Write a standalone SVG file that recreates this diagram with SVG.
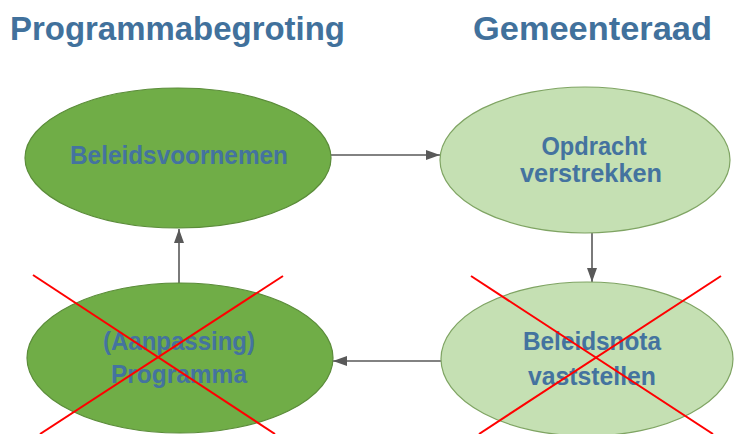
<svg xmlns="http://www.w3.org/2000/svg" width="737" height="434" viewBox="0 0 737 434">
<style>
.title{font-family:"Liberation Sans",Arial,sans-serif;font-weight:bold;fill:#41719c;font-size:33px}
.lbl{font-family:"Liberation Sans",Arial,sans-serif;font-weight:bold;fill:#44739f;font-size:25px;text-anchor:middle}
.dark{fill:#70ad47;stroke:#5b8c3a;stroke-width:1.2}
.light{fill:#c5e0b3;stroke:#7fa463;stroke-width:1.2}
.conn{stroke:#595959;stroke-width:1.6;fill:none;marker-end:url(#ah)}
.x{stroke:#ff0000;stroke-width:2}
</style>
<defs>
<marker id="ah" viewBox="0 0 14 10" refX="14" refY="5" markerWidth="14" markerHeight="10" markerUnits="userSpaceOnUse" orient="auto">
<path d="M0,0 L14,5 L0,10 z" fill="#595959"/>
</marker>
</defs>
<rect width="737" height="434" fill="#ffffff"/>
<text class="title" x="10" y="40" textLength="335" lengthAdjust="spacingAndGlyphs">Programmabegroting</text>
<text class="title" x="473" y="40" textLength="239" lengthAdjust="spacingAndGlyphs">Gemeenteraad</text>
<g id="connectors">
<line class="conn" x1="331" y1="155" x2="440" y2="155"/>
<line class="conn" x1="592" y1="233" x2="592" y2="282"/>
<line class="conn" x1="441" y1="361" x2="333" y2="361"/>
<line class="conn" x1="179" y1="283" x2="179" y2="229"/>
</g>
<g id="n1">
<ellipse class="dark" cx="178" cy="158" rx="153" ry="70"/>
<text class="lbl" x="179" y="164" textLength="218" lengthAdjust="spacingAndGlyphs">Beleidsvoornemen</text>
</g>
<g id="n2">
<ellipse class="light" cx="585" cy="160" rx="145" ry="73"/>
<text class="lbl" x="594" y="155" textLength="105" lengthAdjust="spacingAndGlyphs">Opdracht</text>
<text class="lbl" x="591" y="182" textLength="142" lengthAdjust="spacingAndGlyphs">verstrekken</text>
</g>
<g id="n3">
<ellipse class="light" cx="587" cy="359" rx="146" ry="77"/>
<text class="lbl" x="592" y="350" textLength="138" lengthAdjust="spacingAndGlyphs">Beleidsnota</text>
<text class="lbl" x="592" y="385" textLength="128" lengthAdjust="spacingAndGlyphs">vaststellen</text>
</g>
<g id="n4">
<ellipse class="dark" cx="180" cy="358" rx="153" ry="75"/>
<text class="lbl" x="179" y="350" textLength="152" lengthAdjust="spacingAndGlyphs">(Aanpassing)</text>
<text class="lbl" x="179" y="383" textLength="136" lengthAdjust="spacingAndGlyphs">Programma</text>
</g>
<g id="crosses">
<line class="x" x1="33" y1="275" x2="275" y2="434"/>
<line class="x" x1="283" y1="276" x2="40" y2="434"/>
<line class="x" x1="471" y1="276" x2="713" y2="434"/>
<line class="x" x1="721" y1="276" x2="479" y2="434"/>
</g>
</svg>
